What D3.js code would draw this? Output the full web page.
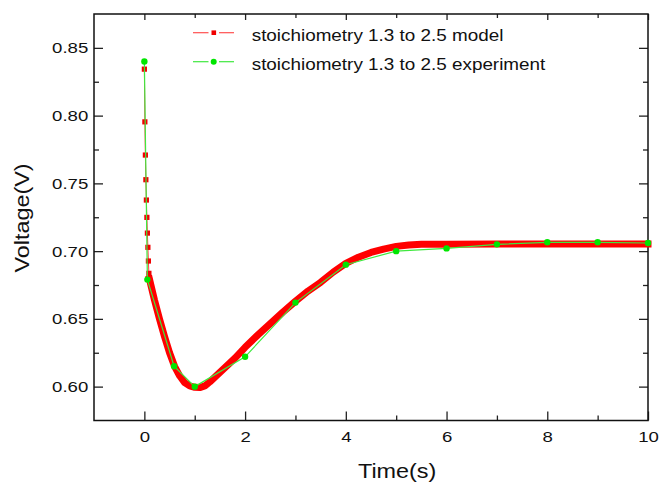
<!DOCTYPE html>
<html>
<head>
<meta charset="utf-8">
<script src="https://cdn.jsdelivr.net/npm/d3@7"></script>
<style>
  body { margin: 0; background: #fff; }
  svg { display: block; }
  text { font-family: "Liberation Sans", Arial, sans-serif; fill: #111; }
  .tick line { stroke: #222; stroke-width: 1.3; }
  .tick text { font-size: 15.5px; }
</style>
</head>
<body>
<svg width="662" height="482"></svg>
<script>
// **** data ****
var modelTime = [0, 0.01, 0.02, 0.03, 0.04, 0.05, 0.06, 0.07, 0.08, 0.09,
    0.1, 0.2, 0.3, 0.4, 0.5, 0.6, 0.7, 0.8, 0.9, 1.0, 1.1, 1.2, 1.3, 1.4, 1.5, 1.6, 1.8,
    2.0, 2.25, 2.5, 2.75, 3.0, 3.25, 3.5, 3.75, 4.0, 4.25, 4.5, 4.75, 5.0, 5.25, 5.5,
    6, 7, 8, 9, 10];
var modelVolt = [0.8343, 0.7954, 0.7709, 0.7527, 0.7377, 0.7249, 0.7133, 0.7028, 0.6927, 0.6836,
    0.6795, 0.664, 0.650, 0.637, 0.625, 0.615, 0.608, 0.603, 0.6005, 0.5995, 0.5993, 0.6005, 0.6035, 0.607, 0.6105, 0.614, 0.621,
    0.629, 0.638, 0.6465, 0.655, 0.663, 0.6705, 0.677, 0.6845, 0.691, 0.6955, 0.699, 0.7015, 0.7035, 0.7045, 0.7050,
    0.7050, 0.7052, 0.7053, 0.7053, 0.7053];

var expTime = [0, 0.06, 0.59, 1.0, 2, 3, 4, 5, 6, 7, 8, 9, 10];
var expVolt = [0.840, 0.679, 0.615, 0.600, 0.622, 0.662, 0.690, 0.700, 0.702, 0.705, 0.7065, 0.7065, 0.706];

var xMajor = [0, 2, 4, 6, 8, 10];
var xMinor = [1, 3, 5, 7, 9];
var yMajor = [0.60, 0.65, 0.70, 0.75, 0.80, 0.85];
var yMinor = [0.625, 0.675, 0.725, 0.775, 0.825];

var seriesNames = ["stoichiometry 1.3 to 2.5 model", "stoichiometry 1.3 to 2.5 experiment"];

// **** scales ****
var plotLeft = 94, plotRight = 648, plotTop = 14, plotBottom = 420.5;
var x = d3.scaleLinear().domain([-1, 10]).range([plotLeft, plotRight]);
var y = d3.scaleLinear().domain([0.575, 0.875]).range([plotBottom, plotTop]);
var stretch = "scale(1.2,1)";

var svg = d3.select("svg");

// **** axes (ticks point inwards) ****
function addAxis(axis, tr, major, minor, size, minorSize, labels) {
    svg.append("g").attr("transform", tr).call(axis.tickValues(minor).tickSize(minorSize).tickFormat(""))
        .call(function (g) { g.select(".domain").remove(); });
    var g = svg.append("g").attr("transform", tr).call(axis.tickValues(major).tickSize(size)
        .tickFormat(labels ? labels : ""));
    g.select(".domain").remove();
    g.attr("font-family", null).attr("font-size", null);
    return g;
}

var gx = addAxis(d3.axisBottom(x).tickPadding(11), "translate(0," + plotBottom + ")", xMajor, xMinor, -9, -5, d3.format("d"));
gx.selectAll("text").attr("transform", stretch);
addAxis(d3.axisTop(x), "translate(0," + plotTop + ")", xMajor, xMinor, -6, -4, null);

var gy = addAxis(d3.axisLeft(y).tickPadding(4.8), "translate(" + plotLeft + ",0)", yMajor, yMinor, -9, -5, d3.format(".2f"));
gy.selectAll("text").attr("transform", stretch);
addAxis(d3.axisRight(y), "translate(" + plotRight + ",0)", yMajor, yMinor, -9, -5, null);

// frame
svg.append("rect").attr("x", plotLeft).attr("y", plotTop).attr("width", plotRight - plotLeft).attr("height", plotBottom - plotTop)
    .attr("fill", "none").attr("stroke", "#111").attr("stroke-width", 1.5);

// axis titles
svg.append("text").attr("transform", "translate(358,478) " + stretch)
    .attr("font-size", "19.5px").text("Time(s)");
svg.append("text").attr("transform", "translate(29,218) rotate(-90) scale(1.2,1)")
    .attr("text-anchor", "middle").attr("font-size", "19.5px").text("Voltage(V)");

// **** model series ****
var model = modelTime.map(function (t, i) { return [t, modelVolt[i]]; });
var exp = expTime.map(function (t, i) { return [t, expVolt[i]]; });
var line = d3.line().x(function (d) { return x(d[0]); }).y(function (d) { return y(d[1]); });
var denseFrom = 10; // markers merge into a solid band from here on

svg.append("path").datum(model).attr("d", line).attr("fill", "none")
    .attr("stroke", "#ff4040").attr("stroke-width", 1);
svg.append("path").datum(model.slice(denseFrom)).attr("d", line).attr("fill", "none")
    .attr("stroke", "#ff0000").attr("stroke-width", 7)
    .attr("stroke-linejoin", "round").attr("stroke-linecap", "square");
svg.selectAll(".sq").data(model.slice(0, denseFrom)).enter().append("rect").attr("class", "sq")
    .attr("x", function (d) { return x(d[0]) - 2.6; })
    .attr("y", function (d) { return y(d[1]) - 2.6; })
    .attr("width", 5.2).attr("height", 5.2).attr("fill", "#f00000");

// **** experiment series ****
svg.append("path").datum(exp).attr("d", line).attr("fill", "none")
    .attr("stroke", "#3fe83f").attr("stroke-width", 1.2);
svg.selectAll(".dot").data(exp).enter().append("circle").attr("class", "dot")
    .attr("cx", function (d) { return x(d[0]); })
    .attr("cy", function (d) { return y(d[1]); })
    .attr("r", 3.2).attr("fill", "#00e600");

// **** legend ****
var legend = svg.append("g");
var legY = [32.7, 61.7];
var legColor = ["#ff5050", "#3fe83f"];
var legMark = ["#f00000", "#00e600"];
seriesNames.forEach(function (name, i) {
    // line broken around the marker, as in the original
    legend.append("line").attr("x1", 193).attr("x2", 208.5).attr("y1", legY[i]).attr("y2", legY[i])
        .attr("stroke", legColor[i]).attr("stroke-width", 1.2);
    legend.append("line").attr("x1", 219).attr("x2", 234).attr("y1", legY[i]).attr("y2", legY[i])
        .attr("stroke", legColor[i]).attr("stroke-width", 1.2);
    if (i === 0) {
        legend.append("rect").attr("x", 211.5).attr("y", legY[i] - 2.3).attr("width", 4.6).attr("height", 4.6)
            .attr("fill", legMark[i]);
    } else {
        legend.append("circle").attr("cx", 213.7).attr("cy", legY[i]).attr("r", 3).attr("fill", legMark[i]);
    }
    legend.append("text").attr("transform", "translate(251.7," + (legY[i] + 8) + ") scale(1.18,1)")
        .attr("font-size", "16px").text(name);
});
</script>
</body>
</html>
